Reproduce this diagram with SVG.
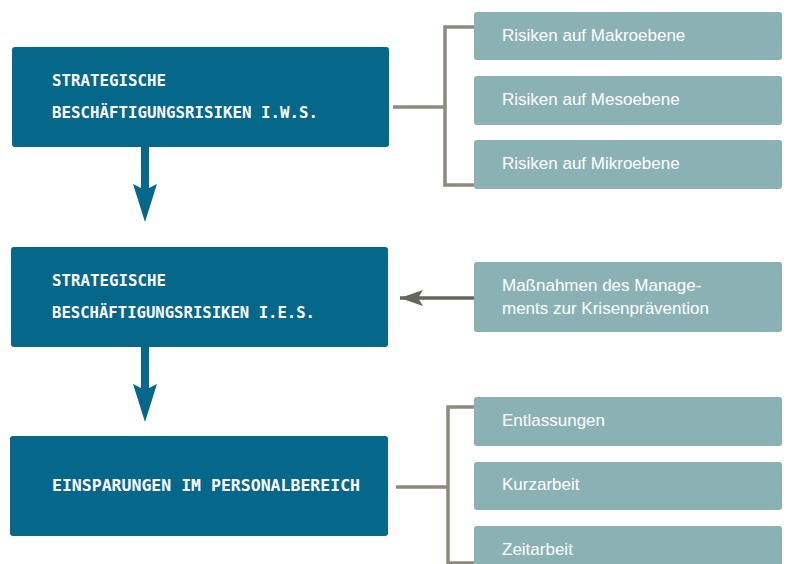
<svg xmlns="http://www.w3.org/2000/svg" width="787" height="564" viewBox="0 0 787 564">
<defs>
<style>
.main{fill:#05678a;}
.sub{fill:#8ab2b5;}
.ht{font-family:"DejaVu Sans Mono","Liberation Mono",monospace;font-size:16.5px;font-weight:bold;fill:#ffffff;}
.st{font-family:"Liberation Sans",Arial,sans-serif;font-size:17px;fill:#ffffff;}
.br{fill:none;stroke:#8c8b7d;stroke-width:3.5;}
</style>
<marker id="ahL" markerWidth="24" markerHeight="16" refX="23" refY="8" orient="auto" markerUnits="userSpaceOnUse">
<path d="M0,0 L23,8 L0,16 L5,8 Z" fill="#64665a"/>
</marker>
</defs>
<rect width="787" height="564" fill="#ffffff"/>
<g id="connectors">
<path class="br" d="M393,107 H445 M474,27 H445 V185 H474"/>
<path class="br" d="M396,487 H448 M474,407 H448 V563 H474"/>
<path d="M474,298 H400" stroke="#64665a" stroke-width="3.5" fill="none" marker-end="url(#ahL)"/>
<path d="M141,147 H149 V188 L157,184 L145,222 L133,184 L141,188 Z" fill="#05678a"/>
<path d="M141,347 H149 V388 L157,384 L145,422 L133,384 L141,388 Z" fill="#05678a"/>
</g>
<g id="node-iws">
<rect class="main" x="12" y="47" width="377" height="100" rx="3"/>
<text class="ht" x="52" y="86" textLength="114" lengthAdjust="spacingAndGlyphs">STRATEGISCHE</text>
<text class="ht" x="52" y="118" textLength="266" lengthAdjust="spacingAndGlyphs">BESCHÄFTIGUNGSRISIKEN I.W.S.</text>
</g>
<g id="node-ies">
<rect class="main" x="11" y="247" width="377" height="100" rx="3"/>
<text class="ht" x="52" y="286" textLength="114" lengthAdjust="spacingAndGlyphs">STRATEGISCHE</text>
<text class="ht" x="52" y="318" textLength="263" lengthAdjust="spacingAndGlyphs">BESCHÄFTIGUNGSRISIKEN I.E.S.</text>
</g>
<g id="node-einsparungen">
<rect class="main" x="10" y="436" width="378" height="100" rx="3"/>
<text class="ht" x="52" y="491" textLength="308" lengthAdjust="spacingAndGlyphs">EINSPARUNGEN IM PERSONALBEREICH</text>
</g>
<g id="node-makro">
<rect class="sub" x="474" y="12" width="308" height="48" rx="3"/>
<text class="st" x="502" y="41">Risiken auf Makroebene</text>
</g>
<g id="node-meso">
<rect class="sub" x="474" y="76" width="308" height="49" rx="3"/>
<text class="st" x="502" y="105">Risiken auf Mesoebene</text>
</g>
<g id="node-mikro">
<rect class="sub" x="474" y="140" width="308" height="49" rx="3"/>
<text class="st" x="502" y="169">Risiken auf Mikroebene</text>
</g>
<g id="node-massnahmen">
<rect class="sub" x="474" y="262" width="308" height="70" rx="3"/>
<text class="st" x="502" y="291">Maßnahmen des Manage-</text>
<text class="st" x="502" y="314">ments zur Krisenprävention</text>
</g>
<g id="node-entlassungen">
<rect class="sub" x="474" y="397" width="308" height="49" rx="3"/>
<text class="st" x="502" y="426">Entlassungen</text>
</g>
<g id="node-kurzarbeit">
<rect class="sub" x="474" y="462" width="308" height="48" rx="3"/>
<text class="st" x="502" y="490">Kurzarbeit</text>
</g>
<g id="node-zeitarbeit">
<rect class="sub" x="474" y="526" width="308" height="50" rx="3"/>
<text class="st" x="502" y="555">Zeitarbeit</text>
</g>
</svg>
